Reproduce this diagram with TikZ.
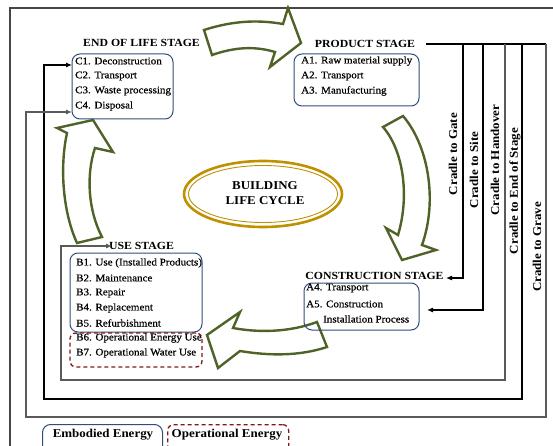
\documentclass[tikz,border=0pt]{standalone}
\usepackage{fontspec}
\setmainfont{Liberation Serif}[FakeStretch=1.08]
\newfontfamily\itemfont{Liberation Serif}[FakeStretch=1.08,FakeBold=0.6]
\usetikzlibrary{arrows.meta}
\definecolor{boxblue}{RGB}{47,78,122}
\definecolor{opred}{RGB}{128,24,24}
\definecolor{arrgreen}{RGB}{79,98,40}
\definecolor{goldc}{RGB}{191,144,0}
\definecolor{framec}{RGB}{70,70,70}
\definecolor{linegray}{RGB}{90,90,90}
\begin{document}
\begin{tikzpicture}[x=1pt,y=-1pt,
  bluebox/.style={draw=boxblue, line width=1pt, rounded corners=8pt, inner sep=0pt},
  redbox/.style={draw=opred, line width=1.3pt, dash pattern=on 4pt off 3pt, rounded corners=6pt, inner sep=0pt},
  item/.style={anchor=west, inner sep=0pt, font=\itemfont\fontsize{10.2}{12}\selectfont},
  stitle/.style={inner sep=0pt, font=\fontsize{10.9}{13}\selectfont\bfseries},
  cradle/.style={rotate=90, inner sep=0pt, font=\fontsize{12}{14}\selectfont\bfseries},
  legend/.style={inner sep=0pt, font=\fontsize{12}{14}\selectfont\bfseries},
  conn/.style={line width=1.1pt, -{Latex[length=6pt,width=5pt]}},
  bigarrow/.style={draw=arrgreen, line width=2.4pt, line join=miter},
]
\useasboundingbox (0,0) rectangle (553,446);
% outer frame
\draw[framec, line width=1.4pt] (10,446) -- (10,8) -- (553,8);

% green cycle arrows
\draw[bigarrow] (204,30) .. controls (235,20) and (260,20) .. (283,24) -- (288,8) -- (301,43) -- (270,67) -- (275,52) .. controls (255,46) and (235,47) .. (212,55) -- cycle;
\draw[bigarrow] (403,116) .. controls (428,145) and (438,200) .. (422,245) -- (436,250) -- (402,260) -- (386,228) -- (398,235) .. controls (410,195) and (403,150) .. (383,127) -- cycle;
\draw[bigarrow] (207,335) -- (240,312) -- (233,328) .. controls (260,333) and (290,332) .. (317,322) -- (327,347) .. controls (300,356) and (270,356) .. (240,351) -- (218,368) -- cycle;
\draw[bigarrow] (77,243) .. controls (62,210) and (60,165) .. (67,133) -- (57,128) -- (93,120) -- (113,152) -- (95,148) .. controls (86,175) and (88,210) .. (102,237) -- cycle;

% central ellipse
\draw[goldc, line width=2.6pt] (263,194) ellipse [x radius=79, y radius=33];
\draw[goldc, line width=0.9pt] (263,194) ellipse [x radius=74.5, y radius=28.5];
\node[inner sep=0pt, font=\fontsize{12}{15}\selectfont\bfseries, align=center] (blc) at (265,193) {BUILDING\\LIFE CYCLE};

% END OF LIFE
\node[stitle] (eolT) at (141.5,43) {END OF LIFE STAGE};
\node[bluebox, minimum width=101pt, minimum height=65pt] (cbox) at (122.5,86.5) {};
\node[item] (c1) at (75,61) {C1. Deconstruction};
\node[item] (c2) at (75,76) {C2. Transport};
\node[item] (c3) at (75,91) {C3. Waste processing};
\node[item] (c4) at (75,106) {C4. Disposal};

% PRODUCT
\node[stitle] (prodT) at (365,44) {PRODUCT STAGE};
\node[bluebox, minimum width=125pt, minimum height=52pt] (abox) at (356.5,80) {};
\node[item] (a1) at (301,61) {A1. Raw material supply};
\node[item] (a2) at (301,76) {A2. Transport};
\node[item] (a3) at (301,91) {A3. Manufacturing};

% CONSTRUCTION
\node[stitle] (conT) at (374.5,276) {CONSTRUCTION STAGE};
\node[bluebox, minimum width=115pt, minimum height=47pt] (a4box) at (361.5,306.5) {};
\node[item] (a4) at (306,288) {A4. Transport};
\node[item] (a5) at (306,304) {A5. Construction};
\node[item] (a5b) at (323,319) {Installation Process};

% USE
\node[stitle] (useT) at (141.5,246) {USE STAGE};
\node[bluebox, minimum width=132pt, minimum height=79pt] (bbox) at (136,292.5) {};
\node[redbox, minimum width=132pt, minimum height=34pt] (b67box) at (136,350) {};
\node[item] (b1) at (76,263) {B1. Use (Installed Products)};
\node[item] (b2) at (76,278) {B2. Maintenance};
\node[item] (b3) at (76,293) {B3. Repair};
\node[item] (b4) at (76,308) {B4. Replacement};
\node[item] (b5) at (76,323) {B5. Refurbishment};
\node[item] (b6) at (76,338) {B6. Operational Energy Use};
\node[item] (b7) at (76,353) {B7. Operational Water Use};

% cradle labels
\node[cradle] (lgate) at (453,154) {Cradle to Gate};
\node[cradle] (lsite) at (474,170) {Cradle to Site};
\node[cradle] (lhand) at (495,160) {Cradle to Handover};
\node[cradle] (lend) at (515,191) {Cradle to End of Stage};
\node[cradle] (lgrave) at (537,247) {Cradle to Grave};

% bus coordinates
\coordinate (busL) at (426,44);
\coordinate (v1) at (463,44);
\coordinate (v2) at (483,44);
\coordinate (v3) at (505,44);
\coordinate (v4) at (522,44);
\coordinate (v5) at (546,44);
\coordinate (e1) at (446,278);
\coordinate (e2) at (427,310);
\coordinate (e3) at (112,246);
\coordinate (e4) at (72,65);
\coordinate (e5) at (72,112);

\draw[line width=1.1pt] (busL) -- (v5);
\draw[conn] (v1) |- (e1);
\draw[conn] (v2) |- (e2);
\draw[conn, draw=linegray] (v3) -- (505,380) -- (61,380) |- (e3);
\draw[conn] (v4) -- (522,399) -- (44,399) |- (e4);
\draw[conn, draw=linegray] (v5) -- (546,417) -- (26,417) |- (e5);

% legend
\node[bluebox, minimum width=120pt, minimum height=30pt, anchor=north west] (legE) at (42,424) {};
\node[legend] (legEt) at (103,434.5) {Embodied Energy};
\node[redbox, minimum width=121pt, minimum height=30pt, anchor=north west] (legO) at (167,424) {};
\node[legend] (legOt) at (227,434.5) {Operational Energy};
\end{tikzpicture}
\end{document}
